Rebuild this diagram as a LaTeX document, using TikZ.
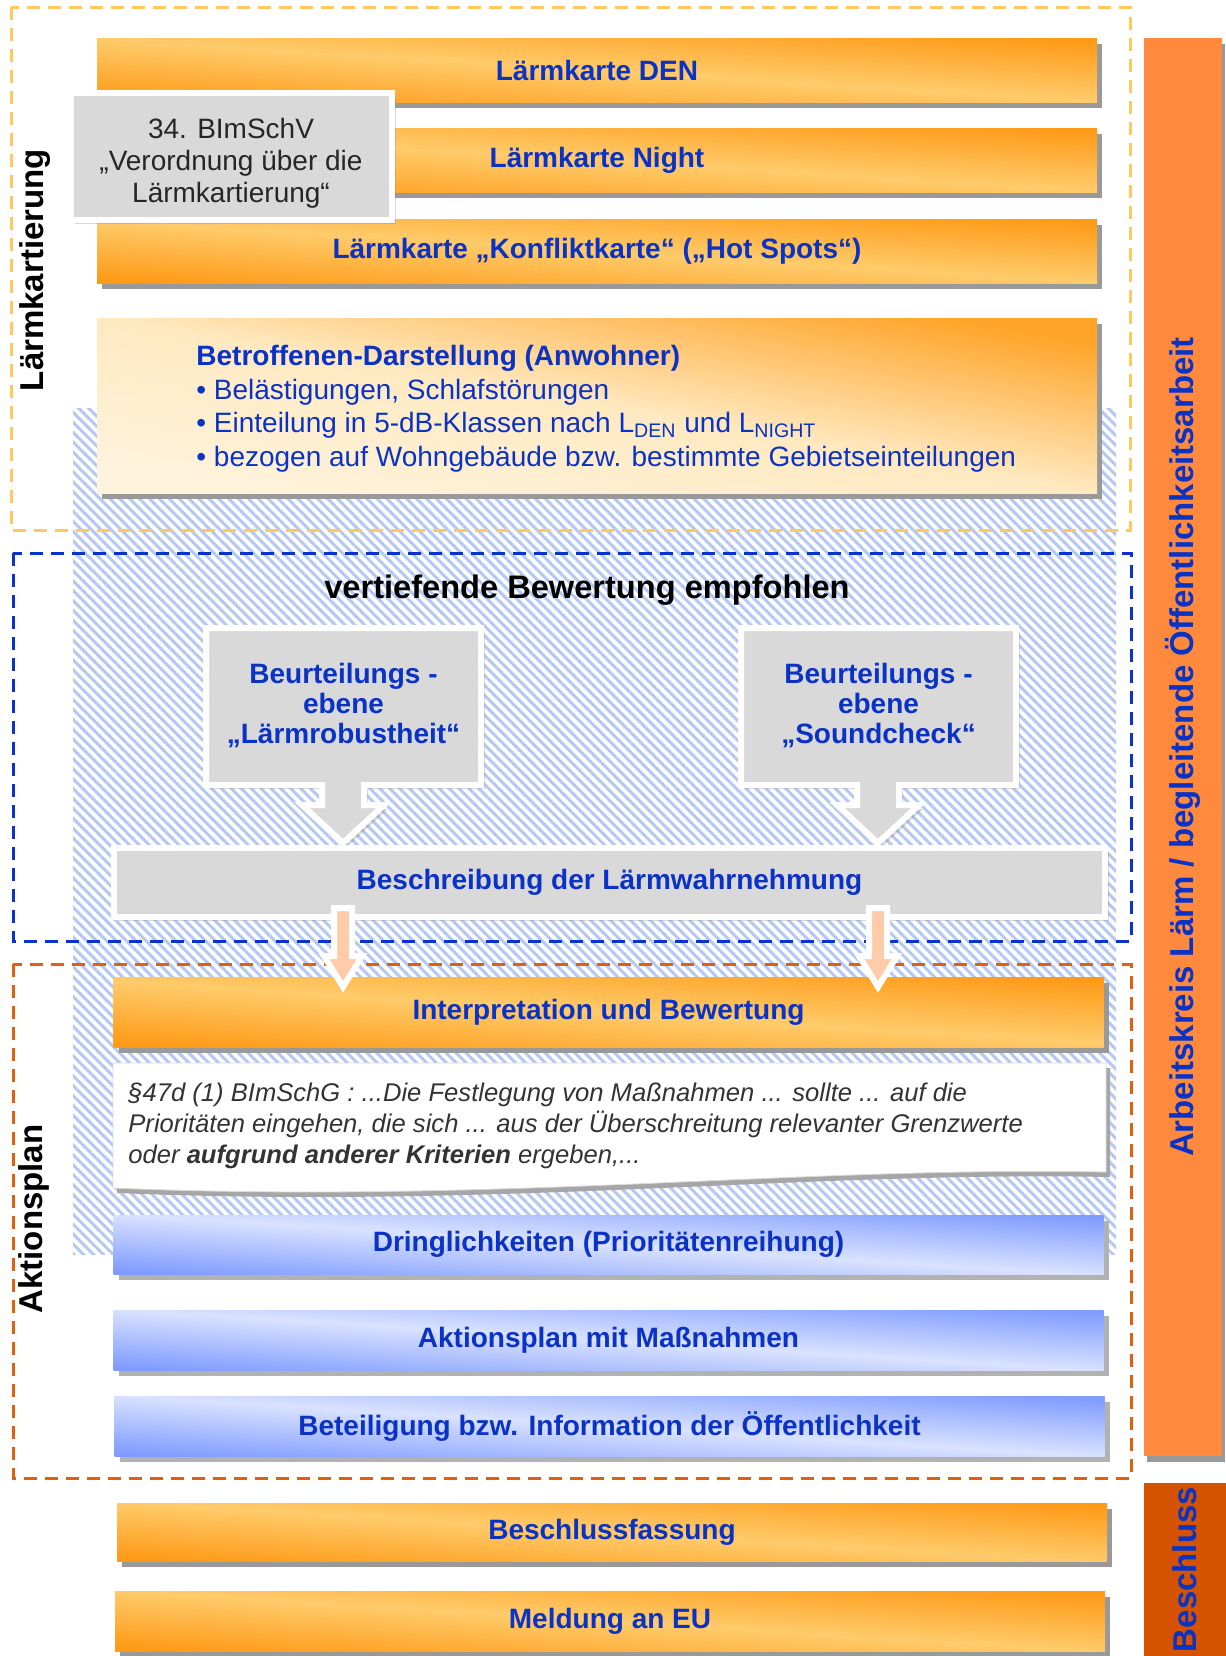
\documentclass[tikz,border=0pt]{standalone}
\usepackage{fontspec}
\setmainfont{Liberation Sans}
\usetikzlibrary{shadows,patterns.meta}

\definecolor{hellorange}{HTML}{FFCB6B}
\definecolor{dunkelorange}{HTML}{FF9A17}
\definecolor{creme}{HTML}{FFF3DD}
\definecolor{hellblau}{HTML}{D9E2FF}
\definecolor{dunkelblau}{HTML}{809CFF}
\definecolor{textblau}{HTML}{0A32C4}
\definecolor{kastengrau}{HTML}{D9D9D9}
\definecolor{schraffur}{HTML}{B5C8F4}
\definecolor{rahmengelb}{HTML}{FFC960}
\definecolor{rahmenblau}{HTML}{0A32D0}
\definecolor{rahmenrot}{HTML}{E0600F}
\definecolor{akorange}{HTML}{FF8A3E}
\definecolor{beschlussrot}{HTML}{D55300}
\definecolor{pfirsich}{HTML}{FFCBA8}

\tikzset{
  kasten/.style={minimum width=500pt, minimum height=32pt, inner sep=0pt,
    text=textblau, font=\bfseries\fontsize{14}{16}\selectfont},
  schritt/.style={kasten, minimum width=495pt, minimum height=30pt},
  orangeton/.style={top color=dunkelorange, bottom color=dunkelorange,
    middle color=hellorange, shading angle=-3.6,
    general shadow={fill=black!40, shadow xshift=2.5pt, shadow yshift=-3pt}},
  blauton/.style={top color=dunkelblau, bottom color=dunkelblau,
    middle color=hellblau, shading angle=-3.6,
    general shadow={fill=black!30, shadow xshift=2.5pt, shadow yshift=-3pt}},
  graukasten/.style={fill=kastengrau, draw=white, line width=3pt,
    drop shadow={shadow xshift=2pt, shadow yshift=-2pt, opacity=.3}},
  rahmen/.style={line width=1.5pt, dash pattern=on 6.5pt off 4pt},
  seitenbalken/.style={rotate=90, inner sep=0pt, text=textblau,
    font=\bfseries\fontsize{16.5}{18}\selectfont},
  pfeil/.style={fill=pfirsich, draw=white, line width=3pt},
  ueberschrift/.style={font=\bfseries\fontsize{16.5}{18}\selectfont}
}

\begin{document}
\begin{tikzpicture}[x=0.5pt,y=-0.5pt]
\useasboundingbox[fill=white] (0,0) rectangle (1226,1656);

% schraffierter Hintergrund
\fill[pattern={Lines[angle=-45,distance=3.5pt,line width=1.5pt]}, pattern color=schraffur]
  (73,408) rectangle (1116,1254);

% Rahmen der drei Phasen
\draw[rahmen, rahmengelb] (11,7) rectangle (1130,530);
\draw[rahmen, rahmenblau] (13,553) rectangle (1131,941);
\draw[rahmen, rahmenrot] (13,964) rectangle (1131,1478);

\node[ueberschrift, rotate=90] (lkart) at (35,270) {Lärmkartierung};
\node[ueberschrift, rotate=90] (aplan) at (34,1219) {Aktionsplan};

% Laermkarten
\node[kasten, orangeton] (den) at (597,70) {Lärmkarte DEN};
\node[kasten, orangeton] (night) at (597,160) {Lärmkarte Night};
\node[kasten, orangeton] (konflikt) at (597,251) {Lärmkarte „Konfliktkarte“ („Hot Spots“)};

\node[graukasten, minimum width=160.5pt, minimum height=63.5pt] (bimschv) at (231.5,156.5) {};
\node[align=center, text=black!85, font=\fontsize{14}{16}\selectfont] (bimschvtext) at (231,163)
  {34. BImSchV\\„Verordnung über die\\Lärmkartierung“};

\node[kasten, minimum height=87.5pt, top color=dunkelorange!80!hellorange,
  bottom color=creme, middle color=creme!75!hellorange, shading angle=-10,
  general shadow={fill=black!40, shadow xshift=2.5pt, shadow yshift=-3pt}] (betr) at (597,405.5) {};
\node[anchor=north west, inner sep=0pt, align=left, text=textblau,
  font=\fontsize{14}{16.75}\selectfont] (betrtext) at (196,345)
  {\textbf{Betroffenen-Darstellung (Anwohner)}\\
   • Belästigungen, Schlafstörungen\\
   • Einteilung in 5-dB-Klassen nach L\textsubscript{DEN} und L\textsubscript{NIGHT}\\
   • bezogen auf Wohngebäude bzw. bestimmte Gebietseinteilungen};

% vertiefende Bewertung
\node[ueberschrift, font=\bfseries\fontsize{16.3}{18}\selectfont] (titel) at (587,590)
  {vertiefende Bewertung empfohlen};

\foreach \x/\wort/\name in {206/Lärmrobustheit/rob, 741/Soundcheck/sound} {
  \draw[graukasten] (\x,628) -- ++(275,0) -- ++(0,157) -- ++(-117,0) -- ++(0,20)
    -- ++(20,0) -- ++(-41,38) -- ++(-41,-38) -- ++(20,0) -- ++(0,-20) -- ++(-116,0) -- cycle;
  \coordinate (spitze\name) at (\x+137,843);
  \node[align=center, text=textblau, font=\bfseries\fontsize{14}{15}\selectfont]
    (\name) at (\x+137.5,706) {Beurteilungs -\\ebene\\„\wort“};
}

\node[kasten, graukasten, minimum width=495.5pt, minimum height=34.5pt] (besch) at (609.5,882.5)
  {Beschreibung der Lärmwahrnehmung};

% Aktionsplan
\node[schritt, orangeton, minimum height=35pt] (interp) at (608.5,1012) {Interpretation und Bewertung};

\foreach \name in {rob, sound}
  \draw[pfeil] (spitze\name |- besch.south) ++(-9,-12) -- ++(18,0) -- ++(0,48) -- ++(10,0)
    -- ++(-19,31) -- ++(-19,-31) -- ++(10,0) -- cycle;

\draw[fill=white, draw=black!15, general shadow={fill=black!35, shadow xshift=2pt, shadow yshift=-2.5pt}]
  (113,1063) -- (1106,1063) -- (1106,1172) .. controls (800,1166) and (500,1204) .. (113,1188) -- cycle;
\node[anchor=north west, inner sep=0pt, align=left, text=black!80,
  font=\itshape\fontsize{12.8}{15.5}\selectfont] (zitat) at (128,1083)
  {§47d (1) BImSchG : ...Die Festlegung von Maßnahmen ... sollte ... auf die\\
   Prioritäten eingehen, die sich ... aus der Überschreitung relevanter Grenzwerte\\
   oder \textbf{aufgrund anderer Kriterien} ergeben,...};

\node[schritt, blauton, minimum height=29.5pt] (dring) at (608.5,1244.5) {Dringlichkeiten (Prioritätenreihung)};
\node[schritt, blauton] (massn) at (608.5,1340) {Aktionsplan mit Maßnahmen};
\node[schritt, blauton] (oeff) at (609.5,1426) {Beteiligung bzw. Information der Öffentlichkeit};

% Beschluss
\node[schritt, orangeton, minimum height=29pt] (beschl) at (612,1532) {Beschlussfassung};
\node[schritt, orangeton] (meldung) at (610,1621) {Meldung an EU};

% Balken rechts
\node[seitenbalken, fill=akorange, minimum width=709pt, minimum height=39pt,
  general shadow={fill=black!40, shadow xshift=1.5pt, shadow yshift=-3pt}] (arbeitskreis) at (1183,747)
  {Arbeitskreis Lärm / begleitende Öffentlichkeitsarbeit};
\node[seitenbalken, fill=beschlussrot, minimum width=86.5pt, minimum height=41pt] (beschluss) at (1185,1569.5)
  {Beschluss};

\end{tikzpicture}
\end{document}
